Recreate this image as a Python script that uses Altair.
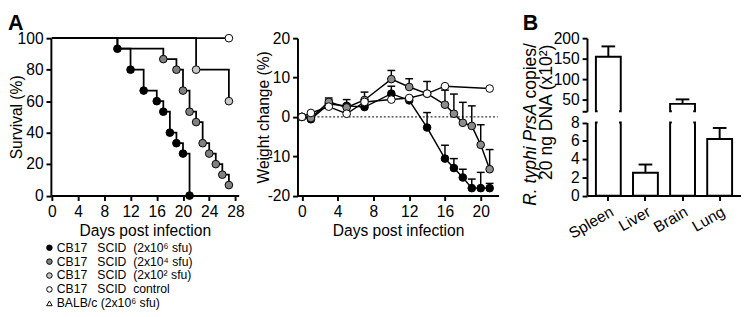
import altair as alt
import pandas as pd

FONT = "Liberation Sans"

# ---------------- data ----------------
series_keys = ["g6", "g4", "g2", "ctrl"]
series_fill = ["#000000", "#808080", "#c8c8c8", "#ffffff"]

# Survival (%)
surv_g6_days = [0, 10, 12, 14, 16, 17, 18, 19, 20, 21]
surv_g6 = [100, 93.3, 80, 66.7, 60, 53.3, 40, 33.3, 26.7, 0]
surv_g4_days = [0, 10, 17, 19, 20, 21, 22, 23, 24, 25, 26, 27]
surv_g4 = [100, 93.3, 86.7, 80, 66.7, 53.3, 46.7, 33.3, 26.7, 20, 13.3, 6.7]
surv_g2_days = [0, 22, 27]
surv_g2 = [100, 80, 60]
surv_ctrl_days = [0, 27]
surv_ctrl = [100, 100]

# Weight change (%)
wt_days = [0, 1, 3, 5, 7, 10, 12, 14, 16, 17, 18, 19, 20, 21]
wt_g6 = [0, -0.6, 3.3, 2.8, 2.5, 5.9, 4.2, -2.7, -10.6, -13.0, -15.4, -18.1, -18.1, -18.1]
wt_g6_sem = [0, 0.3, 1.0, 1.6, 0.8, 1.9, 0.8, 3.8, 3.4, 2.4, 2.1, 2.3, 4.0, 1.2]
wt_g4 = [0, -0.3, 3.8, 2.4, 4.3, 9.6, 7.6, 5.9, 3.1, 0.8, -1.5, -2.3, -7.1, -13.3]
wt_g4_sem = [0, 0.3, 1.0, 0.8, 2.0, 2.2, 2.1, 3.1, 3.7, 5.0, 5.2, 5.1, 5.1, 5.0]
wt_ctrl_days = [0, 1, 3, 5, 7, 10, 12, 14, 16, 21]
wt_ctrl = [0, 1.0, 2.6, 0.8, 3.8, 4.4, 4.8, 5.9, 7.8, 7.2]

# Panel B
organs = ["Spleen", "Liver", "Brain", "Lung"]
copies = [155, 2.5, 40, 6.2]
copies_sem = [25, 0.9, 11, 1.2]

# Legend
NB = "\u00a0"
legend_labels = [
    "CB17" + NB * 3 + "SCID" + NB * 2 + "(2x10\u2076 sfu)",
    "CB17" + NB * 3 + "SCID" + NB * 2 + "(2x10\u2074 sfu)",
    "CB17" + NB * 3 + "SCID" + NB * 2 + "(2x10\u00b2 sfu)",
    "CB17" + NB * 3 + "SCID" + NB * 2 + "control",
    "BALB/c (2x10\u2076 sfu)",
]
legend_keys = ["g6", "g4", "g2", "ctrl", "balb"]

# ---------------- tables ----------------
rows = []
for key, days, vals in [("g6", surv_g6_days, surv_g6), ("g4", surv_g4_days, surv_g4),
                        ("g2", surv_g2_days, surv_g2), ("ctrl", surv_ctrl_days, surv_ctrl)]:
    for d, v in zip(days, vals):
        marker = d > 0 and not (key == "g4" and d == 10)
        rows.append({"series": key, "day": d, "surv": v, "marker": marker})
surv_df = pd.DataFrame(rows)

wrows = []
for key, days, vals, sems in [("g6", wt_days, wt_g6, wt_g6_sem), ("g4", wt_days, wt_g4, wt_g4_sem),
                              ("ctrl", wt_ctrl_days, wt_ctrl, [0] * len(wt_ctrl))]:
    for d, v, s in zip(days, vals, sems):
        wrows.append({"series": key, "day": d, "val": v, "hi": v + s, "sem": s})
wt_df = pd.DataFrame(wrows)

b_df = pd.DataFrame({"organ": organs, "val": copies,
                     "hi": [c + s for c, s in zip(copies, copies_sem)]})
leg_df = pd.DataFrame({"label": legend_labels, "key": legend_keys})

# ---------------- panel A: survival + legend ----------------
sx_scale = alt.Scale(domain=[-0.15, 28.5], nice=False, zero=False)
sy_scale = alt.Scale(domain=[0, 100], nice=False)
xs = alt.X("day:Q", scale=sx_scale,
           axis=alt.Axis(values=list(range(0, 29, 4)), title="Days post infection"))
ys = alt.Y("surv:Q", scale=sy_scale,
           axis=alt.Axis(values=[0, 20, 40, 60, 80, 100], title="Survival (%)", titlePadding=-7.5))
sbase = alt.Chart(surv_df)
s_lines = sbase.mark_line(interpolate="step-after", color="black", strokeWidth=1.8).encode(
    xs, ys, detail="series:N")
s_pts = sbase.transform_filter("datum.marker").mark_circle(
    size=62, stroke="black", strokeWidth=1, opacity=1).encode(
    xs, ys, fill=alt.Fill("series:N", scale=alt.Scale(domain=series_keys, range=series_fill),
                          legend=None))
surv_core = alt.layer(s_lines, s_pts)

ly = alt.Y("label:N", sort=legend_labels, axis=None,
           scale=alt.Scale(type="point", range=[215, 272], padding=0))
leg_pts = alt.Chart(leg_df).mark_point(size=32, stroke="black", strokeWidth=1, opacity=1,
                                       filled=False).encode(
    y=ly, x=alt.value(-1.5),
    fill=alt.Fill("key:N", scale=alt.Scale(domain=legend_keys,
                                           range=["#000000", "#808080", "#c8c8c8", "#ffffff", "#ffffff"]),
                  legend=None),
    shape=alt.Shape("key:N", scale=alt.Scale(domain=legend_keys,
                                             range=["circle", "circle", "circle", "circle", "triangle-up"]),
                    legend=None))
leg_txt = alt.Chart(leg_df).mark_text(align="left", baseline="middle", fontSize=12.5, font=FONT,
                                      color="black").encode(y=ly, x=alt.value(6), text="label:N")
legend_core = alt.layer(leg_pts, leg_txt)

panelA = alt.layer(surv_core, legend_core).resolve_scale(
    y="independent", fill="independent").properties(
    width=192.7, height=161.5,
    title=alt.TitleParams("A", anchor="start", frame="group", dx=-44, dy=12.8, fontSize=22,
                          fontWeight="bold", font=FONT, color="black", offset=8))

# ---------------- weight ----------------
wdom_x = [-0.5, 22]
xw = alt.X("day:Q", scale=alt.Scale(domain=wdom_x, nice=False, zero=False),
           axis=alt.Axis(values=list(range(0, 21, 4)), title="Days post infection"))
yw = alt.Y("val:Q", scale=alt.Scale(domain=[-20, 20], nice=False),
           axis=alt.Axis(values=[-20, -10, 0, 10, 20], title="Weight change (%)",
                         titlePadding=-4, labelExpr="'' + datum.value"))
zero = alt.Chart(pd.DataFrame({"x": [0], "x2": [21.9], "y": [0]})).mark_rule(
    strokeDash=[2, 2], strokeWidth=1, color="black").encode(
    x=alt.X("x:Q", scale=alt.Scale(domain=wdom_x, nice=False, zero=False)), x2="x2:Q",
    y=alt.Y("y:Q", scale=alt.Scale(domain=[-20, 20], nice=False)))
wbase = alt.Chart(wt_df)
w_err = wbase.transform_filter("datum.sem > 0").mark_rule(color="black", strokeWidth=1.5).encode(
    xw, yw, y2="hi:Q")
w_cap = wbase.transform_filter("datum.sem > 0").mark_tick(
    orient="horizontal", size=8, thickness=1.5, color="black", opacity=1).encode(
    xw, y=alt.Y("hi:Q"))
w_lines = wbase.mark_line(color="black", strokeWidth=1.5).encode(xw, yw, detail="series:N")
w_pts = wbase.mark_circle(size=62, stroke="black", strokeWidth=1, opacity=1).encode(
    xw, yw, fill=alt.Fill("series:N", scale=alt.Scale(domain=series_keys,
                                                      range=["#000000", "#8c8c8c", "#c8c8c8", "#ffffff"]),
                          legend=None))
weight = alt.layer(zero, w_err, w_cap, w_lines, w_pts).properties(width=206.3, height=161.5)

# ---------------- panel B (broken axis) ----------------
xb = alt.X("organ:N", sort=organs, scale=alt.Scale(paddingInner=0.33, paddingOuter=0.24),
           axis=alt.Axis(title=None, labelAngle=-30, labelFontSize=16))
up_dom, up_rng = [22, 200], [75, 0]
lo_dom, lo_rng = [0, 8], [161.5, 86.5]


def ysc(dom, rng):
    return alt.Scale(domain=dom, range=rng, nice=False, zero=False, clamp=True)


def yenc(field, dom, rng, axis=None):
    return alt.Y(field, scale=ysc(dom, rng), axis=axis)


up_axis = alt.Axis(values=[22, 50, 100, 150, 200], title=None, orient="left",
                   labelExpr="datum.value == 22 ? '' : datum.label")
lo_axis = alt.Axis(values=[0, 2, 4, 6, 8], title=None, orient="left")

bb = alt.Chart(b_df)
up_src = bb.transform_filter("datum.val > 22")
up_bars = up_src.mark_bar(fill="white", stroke="black", strokeWidth=2).encode(
    xb, yenc("val:Q", up_dom, up_rng, up_axis), y2=alt.datum(22))
up_erase = up_src.transform_calculate(base="22").mark_tick(
    orient="horizontal", size=22, thickness=4, color="white", opacity=1).encode(
    xb, yenc("base:Q", up_dom, up_rng))
up_err = up_src.mark_rule(color="black", strokeWidth=2).encode(
    xb, yenc("val:Q", up_dom, up_rng), y2="hi:Q")
up_cap = up_src.mark_tick(orient="horizontal", size=14, thickness=2, color="black",
                          opacity=1).encode(xb, yenc("hi:Q", up_dom, up_rng))

lo_bars = bb.mark_bar(fill="white", stroke="black", strokeWidth=2).encode(
    xb, yenc("val:Q", lo_dom, lo_rng, lo_axis), y2=alt.datum(0))
lo_erase = bb.transform_filter("datum.val > 8").transform_calculate(top="8").mark_tick(
    orient="horizontal", size=22, thickness=4, color="white", opacity=1).encode(
    xb, yenc("top:Q", lo_dom, lo_rng))
lo_src = bb.transform_filter("datum.hi <= 8")
lo_err = lo_src.mark_rule(color="black", strokeWidth=2).encode(
    xb, yenc("val:Q", lo_dom, lo_rng), y2="hi:Q")
lo_cap = lo_src.mark_tick(orient="horizontal", size=14, thickness=2, color="black",
                          opacity=1).encode(xb, yenc("hi:Q", lo_dom, lo_rng))

t1 = alt.Chart(pd.DataFrame({"t": ["R. typhi PrsA"]})).mark_text(
    angle=270, align="left", baseline="middle", fontSize=18, fontStyle="italic", font=FONT,
    color="black").encode(text="t:N", x=alt.value(-57), y=alt.value(172))
t2 = alt.Chart(pd.DataFrame({"t": ["copies/"]})).mark_text(
    angle=270, align="left", baseline="middle", fontSize=18, font=FONT, color="black").encode(
    text="t:N", x=alt.value(-57), y=alt.value(62))
t3 = alt.Chart(pd.DataFrame({"t": ["20 ng DNA (x10\u00b2)"]})).mark_text(
    angle=270, align="center", baseline="middle", fontSize=18, font=FONT, color="black").encode(
    text="t:N", x=alt.value(-41), y=alt.value(76))

panelB = alt.layer(up_bars, up_erase, up_err, up_cap, lo_bars, lo_erase, lo_err, lo_cap,
                   t1, t2, t3).resolve_scale(y="independent").properties(
    width=158, height=161.5,
    title=alt.TitleParams("B", anchor="start", frame="group", dx=-66, dy=12.8, fontSize=22,
                          fontWeight="bold", font=FONT, color="black", offset=8))


def spacer(w):
    return alt.Chart(pd.DataFrame({"v": [0]})).mark_point(opacity=0).encode(
        x=alt.X("v:Q", axis=None), y=alt.Y("v:Q", axis=None)).properties(width=w, height=10)


chart = alt.hconcat(panelA, spacer(39.6), weight, spacer(70), panelB, spacing=10,
                    bounds="flush").properties(padding=0).configure_view(
    stroke=None).configure_axis(
    domainColor="black", domainWidth=2, tickColor="black", tickWidth=2, tickSize=5,
    labelFont=FONT, labelFontSize=16, labelColor="black", labelPadding=3,
    titleFont=FONT, titleFontSize=16, titleFontWeight="normal", titleColor="black",
    titlePadding=4, grid=False)

chart.save("out.html", embed_options={"renderer": "svg", "actions": False})
